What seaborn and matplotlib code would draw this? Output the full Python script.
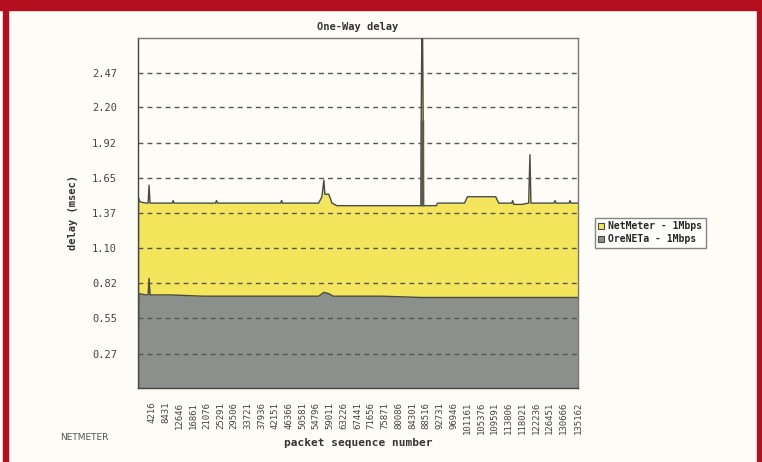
import seaborn as sns
import matplotlib.pyplot as plt
from matplotlib.patches import Patch, Rectangle

# packet sequence number / delay in msec
net_x = [0, 600, 2500, 3100, 3400, 3700, 8300, 10500, 10800, 11100, 19100, 23800, 24100,
         24400, 31500, 37600, 43800, 44100, 44400, 50000, 55500, 56500, 57100, 57400, 58600,
         59600, 61100, 68500, 74700, 80900, 86900, 87000, 87300, 87600, 87700, 91700, 92000,
         95700, 100300, 101200, 109900, 110800, 114800, 115100, 115400, 117900, 120000,
         120400, 120700, 124100, 127800, 128100, 128400, 132400, 132700, 133000, 135162]
net_y = [1.50, 1.46, 1.45, 1.45, 1.59, 1.45, 1.45, 1.45, 1.47, 1.45, 1.45, 1.45, 1.47,
         1.45, 1.45, 1.45, 1.45, 1.47, 1.45, 1.45, 1.45, 1.50, 1.63, 1.52, 1.52,
         1.45, 1.43, 1.43, 1.43, 1.43, 1.43, 2.10, 3.20, 2.10, 1.43, 1.43, 1.45,
         1.45, 1.45, 1.50, 1.50, 1.45, 1.45, 1.47, 1.44, 1.44, 1.45,
         1.83, 1.45, 1.45, 1.45, 1.47, 1.45, 1.45, 1.47, 1.45, 1.45]

ore_x = [0, 300, 2500, 3100, 3400, 3700, 10000, 20000, 30000, 40000, 50000, 55500,
         57100, 58600, 60000, 75000, 87000, 100000, 120000, 135162]
ore_y = [0.33, 0.74, 0.73, 0.73, 0.86, 0.73, 0.73, 0.72, 0.72, 0.72, 0.72, 0.72,
         0.75, 0.74, 0.72, 0.72, 0.71, 0.71, 0.71, 0.71]

xtick_vals = [4216, 8431, 12646, 16861, 21076, 25291, 29506, 33721, 37936, 42151, 46366,
              50581, 54796, 59011, 63226, 67441, 71656, 75871, 80086, 84301, 88516, 92731,
              96946, 101161, 105376, 109591, 113806, 118021, 122236, 126451, 130666, 135162]
ytick_vals = [0.27, 0.55, 0.82, 1.10, 1.37, 1.65, 1.92, 2.20, 2.47]
ytick_labels = ['0.27', '0.55', '0.82', '1.10', '1.37', '1.65', '1.92', '2.20', '2.47']

sns.set_style('white')
plt.rcParams['font.family'] = ['DejaVu Sans Mono', 'DejaVu Sans']

bg = '#fdfcf7'
yellow = '#f3e65c'
grey = '#8b908d'
edge = '#4a4a42'

fig = plt.figure(figsize=(7.62, 4.62), dpi=100, facecolor=bg)
ax = fig.add_axes([138 / 762, 1 - 388 / 462, 440 / 762, 350 / 462])
ax.set_facecolor(bg)

# red magazine frame
fig.patches.append(Rectangle((0, 1 - 10 / 462), 1, 10 / 462, transform=fig.transFigure,
                             color='#b30f1f', zorder=0))
fig.patches.append(Rectangle((3 / 762, 0), 5 / 762, 1, transform=fig.transFigure,
                             color='#b30f1f', zorder=0))
fig.patches.append(Rectangle((757 / 762, 0), 5 / 762, 1, transform=fig.transFigure,
                             color='#b30f1f', zorder=0))

ax.fill_between(net_x, 0, net_y, color=yellow, lw=0, zorder=1)
sns.lineplot(x=net_x, y=net_y, color=edge, lw=1, ax=ax, zorder=3, estimator=None)
ax.fill_between(ore_x, 0, ore_y, color=grey, lw=0, zorder=2)
sns.lineplot(x=ore_x, y=ore_y, color=edge, lw=1, ax=ax, zorder=3, estimator=None)
ax.plot([0, 0], [0, net_y[0]], color=edge, lw=1, zorder=3)
# the tall spike reads as a solid dark bar up to about 2.10
ax.plot([87300, 87300], [1.43, 2.10], color='#5a5a4c', lw=2.5, zorder=3,
        solid_capstyle='butt')

for v in ytick_vals:
    ax.axhline(v, color='#555555', lw=1, ls=(0, (3.5, 3)), zorder=4)

ax.set_xlim(0, 135162)
ax.set_ylim(0, 2.745)
ax.set_xticks(xtick_vals)
ax.set_xticklabels([str(v) for v in xtick_vals], rotation=90, fontsize=6.5, color='#444444')
ax.set_yticks(ytick_vals)
ax.set_yticklabels(ytick_labels, fontsize=7.5, color='#444444')
ax.tick_params(axis='both', direction='out', length=4, width=1, color='#555555', pad=6)
ax.tick_params(axis='y', pad=11)

for s in ax.spines.values():
    s.set_color('#777777')
    s.set_linewidth(1)
ax.spines['left'].set_color('#444444')
ax.spines['bottom'].set_color('#444444')

ax.set_title('One-Way delay', fontsize=7.5, fontweight='bold', color='#333333', pad=6)
ax.set_ylabel('delay (msec)', fontsize=7.5, fontweight='bold', color='#333333', labelpad=10)
ax.set_xlabel('packet sequence number', fontsize=8, fontweight='bold', color='#333333',
              labelpad=3)

handles = [Patch(facecolor=yellow, edgecolor=edge, lw=0.8),
           Patch(facecolor=grey, edgecolor=edge, lw=0.8)]
leg = fig.legend(handles, ['NetMeter - 1Mbps', 'OreNETa - 1Mbps'],
                 loc='upper left', bbox_to_anchor=(595 / 762, 1 - 218 / 462),
                 prop={'size': 7, 'weight': 'bold'}, frameon=True, fancybox=False,
                 handlelength=0.6, handleheight=0.6, handletextpad=0.4,
                 borderpad=0.35, labelspacing=0.3, borderaxespad=0)
leg.get_frame().set_edgecolor('#666666')
leg.get_frame().set_linewidth(1)
leg.get_frame().set_facecolor('white')

fig.text(60 / 762, 1 - 437 / 462, 'NETMETER', fontsize=6.5, color='#555555',
         family='DejaVu Sans', va='center')

fig.savefig('out.png', dpi=100, facecolor=bg)
